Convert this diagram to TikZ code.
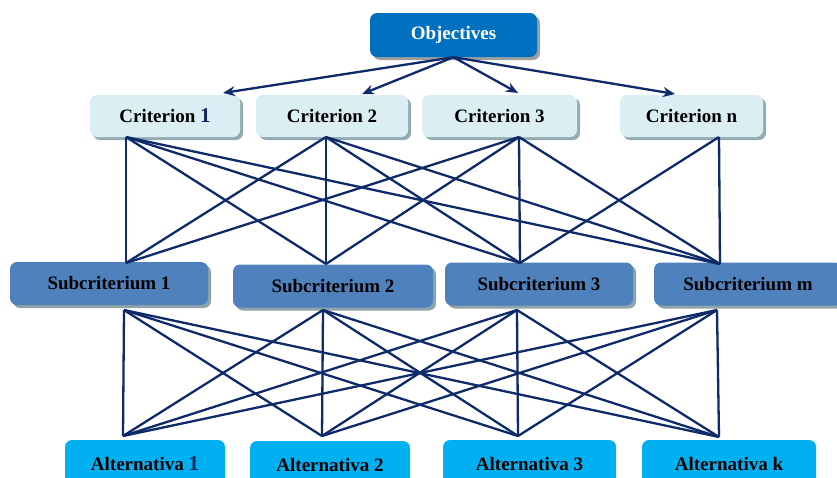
\documentclass[tikz,border=0pt]{standalone}
\usepackage{fontspec}
\setmainfont{Liberation Serif}
\usepackage{xcolor}
\usepackage{tikz}
\usetikzlibrary{shadows,arrows.meta}
\definecolor{objblue}{HTML}{0070C0}
\definecolor{critfill}{HTML}{DAEEF3}
\definecolor{critshade}{HTML}{93ABB2}
\definecolor{subfill}{HTML}{4F81BD}
\definecolor{subshade}{HTML}{8EA4AA}
\definecolor{altfill}{HTML}{00B0F0}
\definecolor{linkblue}{HTML}{0E2A69}
\definecolor{numblue}{HTML}{14285E}
\tikzset{box/.style={rectangle,rounded corners=7pt,inner sep=0pt,font=\bfseries\fontsize{19}{19}\selectfont},
    obj/.style={box,fill=objblue,text=white,minimum width=167pt,minimum height=44pt,
        drop shadow={shadow xshift=3pt,shadow yshift=-3pt,fill=gray!75,opacity=1}},
    crit/.style={box,fill=critfill,minimum height=42pt,
        drop shadow={shadow xshift=3pt,shadow yshift=-3pt,fill=critshade,opacity=1}},
    sub/.style={box,fill=subfill,minimum height=43pt,
        drop shadow={shadow xshift=3pt,shadow yshift=-3pt,fill=subshade,opacity=1}},
    alt/.style={box,fill=altfill,minimum height=48pt},
    link/.style={draw=linkblue,line width=2.3pt}}
\newcommand{\one}{{\fontsize{21}{21}\selectfont\color{numblue}1}}

\begin{document}
\begin{tikzpicture}[x=1pt,y=-1pt,>={Stealth[length=12pt,width=10pt]}]
    \useasboundingbox (0,0) rectangle (837,477);

    \node[obj] (obj) at (453.5,35) {Objectives};

    \node[crit,minimum width=150pt] (crit1) at (165,116) {Criterion \one};
    \node[crit,minimum width=152pt] (crit2) at (332,116) {Criterion 2};
    \node[crit,minimum width=155pt] (crit3) at (499.5,116) {Criterion 3};
    \node[crit,minimum width=143pt] (critn) at (691.5,116) {Criterion n};

    \node[sub,minimum width=198pt] (sub1) at (109,283.5) {Subcriterium 1};
    \node[sub,minimum width=200pt] (sub2) at (333,286) {Subcriterium 2};
    \node[sub,minimum width=188pt] (sub3) at (539,284) {Subcriterium 3};
    \node[sub,minimum width=188pt] (subm) at (748,284) {Subcriterium m};

    \node[alt,minimum width=160pt] (alt1) at (145,464) {Alternativa \one};
    \node[alt,minimum width=160pt] (alt2) at (330,465) {Alternativa 2};
    \node[alt,minimum width=173pt] (alt3) at (529.5,464) {Alternativa 3};
    \node[alt,minimum width=174pt] (altk) at (729,464) {Alternativa k};

    % connection points
    \coordinate (c1) at (126,137);
    \coordinate (c2) at (326,137);
    \coordinate (c3) at (519,137);
    \coordinate (cn) at (719,137);
    \coordinate (s1t) at (126,263);
    \coordinate (s2t) at (326,264);
    \coordinate (s3t) at (520,263);
    \coordinate (smt) at (720,264);
    \coordinate (s1b) at (124,310);
    \coordinate (s2b) at (323,310);
    \coordinate (s3b) at (517,310);
    \coordinate (smb) at (717,310);
    \coordinate (a1) at (123,436);
    \coordinate (a2) at (322,436);
    \coordinate (a3) at (518,436);
    \coordinate (ak) at (719,437);
    \coordinate (t1) at (223,93);
    \coordinate (t2) at (362,94);
    \coordinate (t3) at (518,93);
    \coordinate (tn) at (675,94);

    \draw [link,->] (obj.south) to (t1);
    \draw [link,->] (obj.south) to (t2);
    \draw [link,->] (obj.south) to (t3);
    \draw [link,->] (obj.south) to (tn);

    \draw [link] (c1) to (s1t);
    \draw [link] (c1) to (s2t);
    \draw [link] (c1) to (s3t);
    \draw [link] (c1) to (smt);
    \draw [link] (c2) to (s1t);
    \draw [link] (c2) to (s2t);
    \draw [link] (c2) to (s3t);
    \draw [link] (c2) to (smt);
    \draw [link] (c3) to (s1t);
    \draw [link] (c3) to (s2t);
    \draw [link] (c3) to (s3t);
    \draw [link] (c3) to (smt);
    \draw [link] (cn) to (s3t);
    \draw [link] (cn) to (smt);

    \draw [link] (s1b) to (a1);
    \draw [link] (s1b) to (a2);
    \draw [link] (s1b) to (a3);
    \draw [link] (s1b) to (ak);
    \draw [link] (s2b) to (a1);
    \draw [link] (s2b) to (a2);
    \draw [link] (s2b) to (a3);
    \draw [link] (s2b) to (ak);
    \draw [link] (s3b) to (a1);
    \draw [link] (s3b) to (a2);
    \draw [link] (s3b) to (a3);
    \draw [link] (s3b) to (ak);
    \draw [link] (smb) to (a1);
    \draw [link] (smb) to (a2);
    \draw [link] (smb) to (a3);
    \draw [link] (smb) to (ak);
\end{tikzpicture}
\end{document}
